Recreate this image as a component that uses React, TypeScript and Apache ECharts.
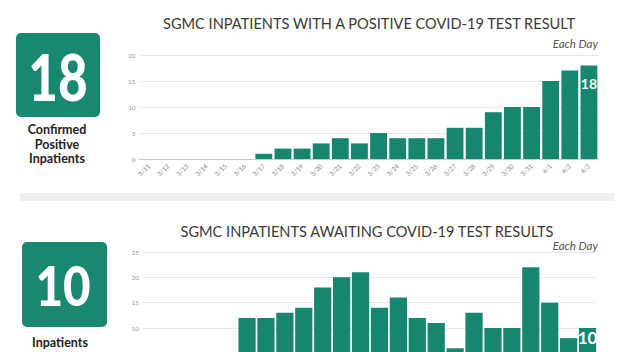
import React, { useEffect, useRef } from "react";
import * as echarts from "echarts";

const categories = ["3/11","3/12","3/13","3/14","3/15","3/16","3/17","3/18","3/19","3/20","3/21","3/22","3/23","3/24","3/25","3/26","3/27","3/28","3/29","3/30","3/31","4/1","4/2","4/3"];
const positiveValues = [null,null,null,null,null,null,1,2,2,3,4,3,5,4,4,4,6,6,9,10,10,15,17,18];
const awaitingValues = [null,null,null,null,null,12,12,13,14,18,20,21,14,16,12,11,6,13,10,10,22,15,8,10];
const positiveTicks = { min: 0, max: 20, interval: 5 };
const awaitingTicks = { min: 0, max: 25, interval: 5 };
const titles = ["SGMC INPATIENTS WITH A POSITIVE COVID-19 TEST RESULT", "SGMC INPATIENTS AWAITING COVID-19 TEST RESULTS"];
const bigNumbers = ["18", "10"];

const TEAL = "#17866f";
const FONT = "Lato, 'Noto Sans', sans-serif";

export default function App() {
  const ref = useRef<HTMLDivElement>(null);
  useEffect(() => {
    if (!ref.current) return;
    const chart = echarts.init(ref.current, null, { renderer: "svg" });
    const lastIdx = categories.length - 1;
    const xAxisCommon = (gridIndex: number, showLabels: boolean) => ({
      type: "category",
      gridIndex,
      data: categories,
      axisTick: { show: false },
      axisLine: { show: true, lineStyle: { color: "#c8c8c8", type: "dotted", width: 1 } },
      axisLabel: { show: showLabels, interval: 0, rotate: 45, fontSize: 6.5, color: "#8a8a8a", margin: 6, fontFamily: FONT },
    });
    const yAxisCommon = (gridIndex: number, t: any, minShown: number) => ({
      type: "value",
      gridIndex,
      min: t.min,
      max: t.max,
      interval: t.interval,
      axisLine: { show: false },
      axisTick: { show: false },
      axisLabel: { fontSize: 6.5, color: "#9a9a9a", margin: 4, fontFamily: FONT, formatter: (v: number) => (v >= minShown ? String(v) : "") },
      splitLine: { lineStyle: { color: "#e8e8e8", width: 1 } },
    });
    const labelFor = (idx: number, size: number, dist: number) => ({
      show: true,
      position: "insideTop",
      distance: dist,
      color: "#fff",
      fontWeight: "bold",
      fontSize: size,
      fontFamily: FONT,
      formatter: (p: any) => (p.dataIndex === idx ? String(p.value) : ""),
    });
    chart.setOption({
      animation: false,
      backgroundColor: "#ffffff",
      title: [
        { text: titles[0], left: 364, top: 11, textAlign: "center", textStyle: { fontSize: 14.6, fontWeight: "normal", color: "#3a3a3a", fontFamily: FONT } },
        { text: titles[1], left: 362, top: 219, textAlign: "center", textStyle: { fontSize: 14.6, fontWeight: "normal", color: "#3a3a3a", fontFamily: FONT } },
      ],
      grid: [
        { left: 139.5, width: 459, top: 55, height: 104, containLabel: false },
        { left: 143, width: 454, top: 252, height: 126.7, containLabel: false },
      ],
      xAxis: [xAxisCommon(0, true), xAxisCommon(1, false)],
      yAxis: [yAxisCommon(0, positiveTicks, 0), yAxisCommon(1, awaitingTicks, 10)],
      series: [
        {
          type: "bar", xAxisIndex: 0, yAxisIndex: 0, data: positiveValues,
          barCategoryGap: "12%", itemStyle: { color: TEAL },
          label: labelFor(lastIdx, 14, 11),
        },
        {
          type: "bar", xAxisIndex: 1, yAxisIndex: 1, data: awaitingValues,
          barCategoryGap: "9%", itemStyle: { color: TEAL },
          label: labelFor(lastIdx, 17, 1),
        },
      ],
      graphic: [
        { type: "rect", shape: { x: 16, y: 33, width: 84, height: 84, r: 5 }, style: { fill: "#1a8871" } },
        { type: "text", x: 58, y: 76, scaleX: 0.8, style: { text: bigNumbers[0], font: "900 64px Lato, 'Noto Sans', sans-serif", fill: "#fff", align: "center", verticalAlign: "middle" } },
        { type: "text", x: 57, y: 144, style: { text: "Confirmed\nPositive\nInpatients", fontSize: 12.5, lineHeight: 14.5, fontWeight: "bold", fill: "#222", align: "center", verticalAlign: "middle", fontFamily: FONT } },
        { type: "text", x: 598, y: 43, style: { text: "Each Day", fontSize: 11.5, fontStyle: "italic", fill: "#555", align: "right", verticalAlign: "middle", fontFamily: FONT } },
        { type: "rect", shape: { x: 20, y: 193, width: 594, height: 8 }, style: { fill: "#efefef" } },
        { type: "rect", shape: { x: 22, y: 242, width: 85, height: 85, r: 5 }, style: { fill: "#1a8871" } },
        { type: "text", x: 63, y: 284, scaleX: 0.85, style: { text: bigNumbers[1], font: "900 56px Lato, 'Noto Sans', sans-serif", fill: "#fff", align: "center", verticalAlign: "middle" } },
        { type: "text", x: 60, y: 335.5, style: { text: "Inpatients\nWaiting", fontSize: 12.5, lineHeight: 14.5, fontWeight: "bold", fill: "#222", align: "center", verticalAlign: "top", fontFamily: FONT } },
        { type: "text", x: 598, y: 245, style: { text: "Each Day", fontSize: 11.5, fontStyle: "italic", fill: "#555", align: "right", verticalAlign: "middle", fontFamily: FONT } },
      ],
    });
    return () => chart.dispose();
  }, []);
  return (
    <div style={{ position: "fixed", left: 0, top: 0, width: 622, height: 352, overflow: "hidden", background: "#fff" }}>
      <div ref={ref} style={{ width: 622, height: 400 }} />
    </div>
  );
}
